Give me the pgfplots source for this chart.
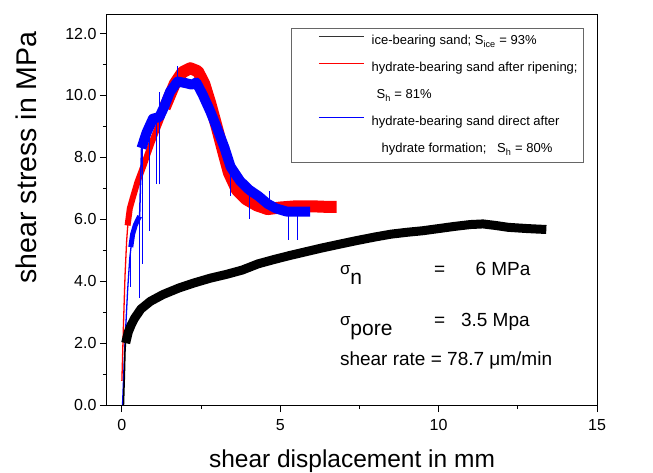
\documentclass[border=0pt]{standalone}
\usepackage{fontspec}
\setmainfont{Liberation Sans}
\usepackage{pgfplots}
\pgfplotsset{compat=1.18}
\begin{document}
\begin{tikzpicture}
\begin{axis}[
  at={(0pt,0pt)}, anchor=south west,
  scale only axis, width=490pt, height=390pt,
  xmin=-0.47, xmax=15, ymin=0, ymax=12.6,
  xtick={0,5,10,15}, minor xtick={2.5,7.5,12.5},
  ytick={0,2,4,6,8,10,12}, minor ytick={1,3,5,7,9,11},
  tick align=outside, xtick pos=left, ytick pos=left,
  major tick length=7pt, minor tick length=4pt,
  axis line style={line width=1pt},
  every tick/.style={line width=1pt, black},
  /pgf/number format/assume math mode=true,
  tick label style={font=\fontsize{16}{16}\selectfont},
  yticklabel style={/pgf/number format/fixed, /pgf/number format/precision=1, /pgf/number format/fixed zerofill},
  xticklabel style={/pgf/number format/fixed, yshift=-4pt},
  xlabel={shear displacement in mm},
  xlabel style={font=\fontsize{24.5}{24.5}\selectfont, at={(rel axis cs:0.5,-0.159)}, anchor=base},
  ylabel={shear stress in MPa},
  ylabel style={font=\fontsize{28.5}{28.5}\selectfont, at={(rel axis cs:-0.165,0.635)}, anchor=center},
  legend style={at={(rel axis cs:0.9735,0.9667)}, anchor=north east, draw=black!60, line width=0.8pt,
    font=\fontsize{13}{16}\selectfont, inner xsep=6pt, inner ysep=6.5pt,
    nodes={inner sep=0pt, text height=10pt, text depth=3pt}, column sep=7pt, row sep=14pt},
  legend cell align=left,
]
% legend (thin sample lines, colours fixed in the code)
\addlegendimage{legend image code/.code={\draw[draw=black!80, line width=1pt] (22pt,5pt) -- (67pt,5pt);}}
\addlegendentry{ice-bearing sand; S\textsubscript{ice} = 93\%}
\addlegendimage{legend image code/.code={\draw[draw=red, line width=1.5pt] (22pt,5pt) -- (67pt,5pt);}}
\addlegendentry{hydrate-bearing sand after ripening;}
\addlegendimage{empty legend}
\addlegendentry{\hspace*{5pt}S\textsubscript{h} = 81\%}
\addlegendimage{legend image code/.code={\draw[draw=blue, line width=1.5pt] (22pt,5pt) -- (67pt,5pt);}}
\addlegendentry{hydrate-bearing sand direct after}
\addlegendimage{empty legend}
\addlegendentry{\hspace*{10pt}hydrate formation;\ \ \ S\textsubscript{h} = 80\%}

% ---- red: hydrate-bearing sand after ripening
\addplot[red, line width=1.3pt, forget plot] coordinates {
(0.0,0.78) (0.05,2.6) (0.1,4.2) (0.15,5.3) (0.2,6.0)};
\addplot[red, line width=6pt, line join=round, forget plot] coordinates {
(0.18,5.8) (0.25,6.35) (0.34,6.68) (0.49,7.2) (0.69,7.75) (0.93,8.45) (1.18,9.1) (1.42,9.75)};
\addplot[red, line width=12pt, line join=round, line cap=butt, forget plot] coordinates {
(1.35,9.6) (1.67,10.38) (1.91,10.75) (2.16,10.88) (2.4,10.78) (2.6,10.38) (2.79,9.75) (2.99,9.0)
(3.19,8.22) (3.38,7.5) (3.63,6.95) (3.92,6.65) (4.26,6.45) (4.6,6.33) (5.0,6.38) (5.5,6.42)
(6.0,6.42) (6.5,6.4) (6.78,6.4)};

% ---- blue: hydrate-bearing sand direct after formation
\addplot[blue, line width=1.3pt, forget plot] coordinates {
(0.02,0) (0.1,2.08) (0.18,3.69) (0.25,4.76) (0.3,5.2)};
\addplot[blue, line width=5pt, line join=round, forget plot] coordinates {
(0.28,5.1) (0.34,5.52) (0.42,5.8) (0.5,5.98) (0.56,6.1)};
\addplot[blue, line width=1.5pt, forget plot] coordinates {(0.56,6.1) (0.62,8.3)};
\addplot[blue, line width=10pt, line join=round, line cap=butt, forget plot] coordinates {
(0.62,8.3) (0.78,8.8) (0.98,9.25) (1.18,9.3) (1.32,9.6) (1.52,10.12) (1.76,10.45) (2.01,10.4)
(2.21,10.35) (2.35,10.42) (2.55,10.03) (2.79,9.49) (3.04,8.85) (3.24,8.31) (3.43,7.7) (3.73,7.24)
(4.02,6.95) (4.31,6.75) (4.6,6.5) (4.87,6.35) (5.2,6.25) (5.6,6.25) (5.94,6.25)};
\addplot[blue, line width=0.8pt, forget plot, unbounded coords=jump] coordinates {
(0.27,4.9) (0.27,3.8) (nan,nan)
(0.55,6.0) (0.55,3.47) (nan,nan)
(0.66,8.4) (0.66,4.55) (nan,nan)
(0.86,8.9) (0.86,5.62) (nan,nan)
(1.08,9.2) (1.08,7.13) (nan,nan)
(1.2,7.13) (1.2,10.1) (nan,nan)
(1.74,10.45) (1.74,10.95) (nan,nan)
(3.43,7.7) (3.43,6.75) (nan,nan)
(4.02,6.95) (4.02,6.0) (nan,nan)
(4.66,6.45) (4.66,6.9) (nan,nan)
(5.25,6.25) (5.25,5.32) (nan,nan)
(5.55,6.25) (5.55,5.32)};

% ---- black: ice-bearing sand
\addplot[black, line width=1.5pt, forget plot] coordinates {
(0.05,0) (0.08,1.0) (0.10,1.8) (0.13,2.2) (0.2,2.45)};
\addplot[black, line width=9pt, line join=round, line cap=butt, forget plot] coordinates {
(0.12,2.0) (0.2,2.35) (0.3,2.6) (0.4,2.8) (0.6,3.1) (0.9,3.35) (1.3,3.57) (1.8,3.78) (2.3,3.95)
(2.8,4.1) (3.3,4.22) (3.8,4.36) (4.3,4.56) (4.8,4.7) (5.3,4.83) (5.8,4.95) (6.3,5.07) (6.8,5.18)
(7.4,5.31) (8.0,5.43) (8.5,5.52) (9.0,5.58) (9.5,5.63) (10.0,5.7) (10.5,5.77) (11.0,5.83)
(11.4,5.85) (11.8,5.8) (12.2,5.74) (12.8,5.7) (13.4,5.67)};

% ---- annotations
\node[anchor=base west, inner sep=0pt] at (axis cs:6.88,4.23)
  {{\fontsize{17}{17}\selectfont σ}\raisebox{-10pt}{\fontsize{21}{21}\selectfont n}};
\node[anchor=base west, inner sep=0pt, font=\fontsize{19}{19}\selectfont] at (axis cs:9.85,4.2) {=};
\node[anchor=base west, inner sep=0pt, font=\fontsize{19}{19}\selectfont] at (axis cs:11.16,4.2) {6 MPa};
\node[anchor=base west, inner sep=0pt] at (axis cs:6.88,2.57)
  {{\fontsize{17}{17}\selectfont σ}\raisebox{-10pt}{\fontsize{21}{21}\selectfont pore}};
\node[anchor=base west, inner sep=0pt, font=\fontsize{19}{19}\selectfont] at (axis cs:9.85,2.53) {=};
\node[anchor=base west, inner sep=0pt, font=\fontsize{19}{19}\selectfont] at (axis cs:10.7,2.53) {3.5 Mpa};
\node[anchor=base west, inner sep=0pt, font=\fontsize{19}{19}\selectfont] at (axis cs:6.88,1.28) {shear rate = 78.7 μm/min};
\end{axis}
\pgfresetboundingbox
\path[use as bounding box] (-107pt,-67pt) rectangle (546pt,405pt);
\end{tikzpicture}
\end{document}
